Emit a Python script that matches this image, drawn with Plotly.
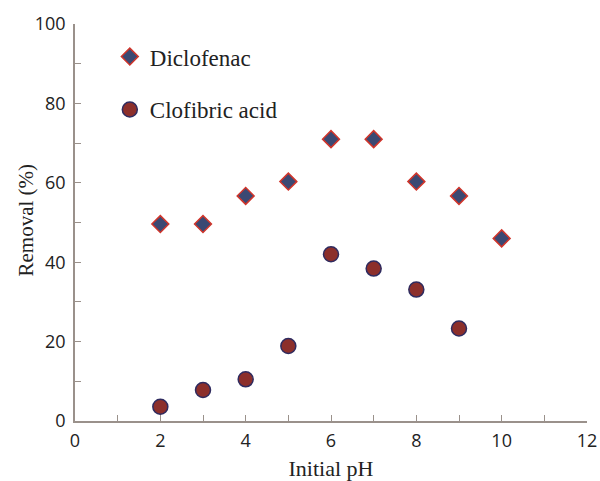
import plotly.graph_objects as go

ph = [2, 3, 4, 5, 6, 7, 8, 9, 10]
diclofenac = [49.6, 49.6, 56.7, 60.3, 71.0, 71.0, 60.3, 56.7, 46.0]
ph_clof = [2, 3, 4, 5, 6, 7, 8, 9]
clofibric = [3.6, 7.8, 10.5, 18.9, 42.0, 38.4, 33.1, 23.3]

x_ticks = [0, 2, 4, 6, 8, 10, 12]
y_ticks = [0, 20, 40, 60, 80, 100]

axis_color = "#9a918b"
serif = "Liberation Serif, Times New Roman, serif"
sans = "Open Sans, Noto Sans, sans-serif"

fig = go.Figure()
fig.add_trace(go.Scatter(
    x=ph, y=diclofenac, mode="markers", name="Diclofenac", legendgroup="a",
    marker=dict(symbol="diamond", size=13, color="#3b4973",
                line=dict(color="#d0352b", width=1.5)),
))
fig.add_trace(go.Scatter(
    x=ph_clof, y=clofibric, mode="markers", name="Clofibric acid", legendgroup="b",
    marker=dict(symbol="circle", size=15, color="#8c2f2b",
                line=dict(color="#2f2b5f", width=1.5)),
))

fig.update_layout(
    width=600, height=481,
    margin=dict(l=75, r=13, t=24, b=60),
    plot_bgcolor="white", paper_bgcolor="white",
    showlegend=True,
    legend=dict(x=0.068, y=0.972, xanchor="left", yanchor="top",
                font=dict(family=serif, size=23, color="#222"),
                bgcolor="rgba(0,0,0,0)", tracegroupgap=20, itemwidth=30),
    xaxis=dict(range=[0, 12], tickvals=x_ticks, ticks="inside", ticklen=6,
               tickcolor=axis_color, showline=True, linecolor=axis_color, linewidth=1.5,
               showgrid=False, zeroline=False, automargin=False, ticklabelstandoff=3,
               minor=dict(dtick=1, ticks="inside", ticklen=6, tickcolor=axis_color),
               tickfont=dict(family=sans, size=18, color="#222"),
               title=dict(text="Initial pH", font=dict(family=serif, size=22, color="#222"), standoff=15)),
    yaxis=dict(range=[0, 100], tickvals=y_ticks, ticks="inside", ticklen=6,
               tickcolor=axis_color, showline=True, linecolor=axis_color, linewidth=1.5,
               showgrid=False, zeroline=False, automargin=False, ticklabelstandoff=4,
               minor=dict(dtick=10, ticks="inside", ticklen=6, tickcolor=axis_color),
               tickfont=dict(family=sans, size=18, color="#222")),
    annotations=[dict(text="Removal (%)", x=0, xref="paper", y=0.5, yref="paper",
                      xanchor="center", yanchor="middle", xshift=-50, yshift=2,
                      textangle=-90, showarrow=False,
                      font=dict(family=serif, size=21, color="#222"))],
)

fig.write_html(
    "out.html",
    config={"displayModeBar": False},
    post_script="document.documentElement.style.overflow='hidden';document.body.style.margin='0';document.body.style.overflow='hidden';",
)
